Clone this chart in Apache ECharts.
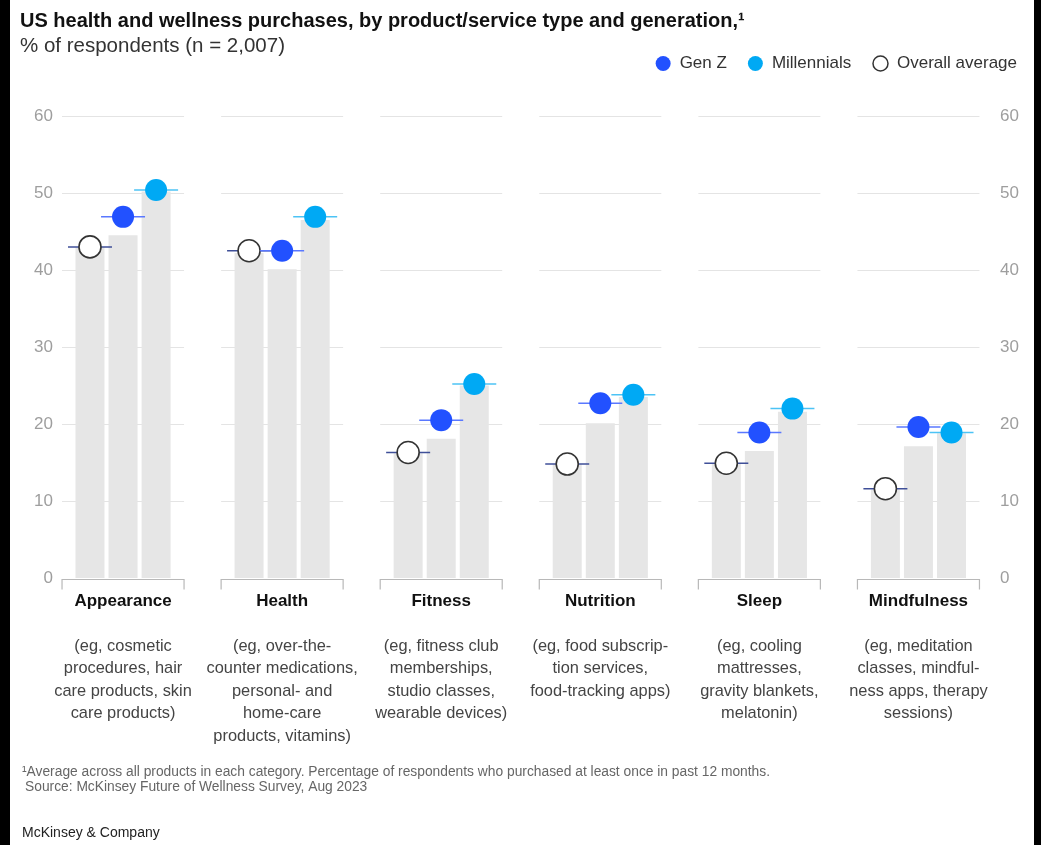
<!DOCTYPE html>
<html>
<head>
<meta charset="utf-8">
<script src="https://cdn.jsdelivr.net/npm/echarts@6/dist/echarts.min.js"></script>
<style>
  html, body { margin: 0; padding: 0; background: #000; width: 1041px; height: 845px; overflow: hidden; }
  #chart { position: absolute; left: 10px; top: 0; width: 1024px; height: 845px; background: #fff; }
</style>
</head>
<body>
<div id="chart"></div>
<script>
// ---- Data ----
const categories = ['Appearance', 'Health', 'Fitness', 'Nutrition', 'Sleep', 'Mindfulness'];
const descriptions = [
  ['(eg, cosmetic', 'procedures, hair', 'care products, skin', 'care products)'],
  ['(eg, over-the-', 'counter medications,', 'personal- and', 'home-care', 'products, vitamins)'],
  ['(eg, fitness club', 'memberships,', 'studio classes,', 'wearable devices)'],
  ['(eg, food subscrip-', 'tion services,', 'food-tracking apps)'],
  ['(eg, cooling', 'mattresses,', 'gravity blankets,', 'melatonin)'],
  ['(eg, meditation', 'classes, mindful-', 'ness apps, therapy', 'sessions)']
];
const overallAvg  = [43.0, 42.5, 16.3, 14.8, 14.9, 11.6];
const genZ        = [46.9, 42.5, 20.5, 22.7, 18.9, 19.6];
const millennials = [50.4, 46.9, 25.2, 23.8, 22.0, 18.9];
const barOverall     = [43.0, 42.2, 16.2, 14.8, 14.8, 11.5];
const barGenZ        = [44.5, 40.1, 18.1, 20.1, 16.5, 17.1];
const barMillennials = [50.2, 46.5, 25.0, 23.5, 21.6, 18.8];
const yTicks = [0, 10, 20, 30, 40, 50, 60];

// ---- Style constants ----
const BAR_W = 29;
const BAR_GAP = 0.14;
const BRACKET_RATIO = 0.767;
const FONT = '"Liberation Sans", Arial, Helvetica, sans-serif';

const chart = echarts.init(document.getElementById('chart'), null, { renderer: 'canvas' });

function gridRender(params, api) {
  const idx = api.value(0);
  const base = api.coord([idx, 0]);
  const band = api.size([1, 0])[0];
  const half = band * BRACKET_RATIO / 2;
  const children = [];
  yTicks.forEach(t => {
    if (t === 0) return;
    const y = Math.round(api.coord([idx, t])[1]) + 0.5;
    children.push({
      type: 'line',
      shape: { x1: base[0] - half, y1: y, x2: base[0] + half, y2: y },
      style: { stroke: '#e4e4e4', lineWidth: 1 }
    });
  });
  const y0 = Math.round(base[1]) + 1.5;
  children.push({
    type: 'polyline',
    shape: { points: [[base[0] - half, y0 + 10], [base[0] - half, y0], [base[0] + half, y0], [base[0] + half, y0 + 10]] },
    style: { stroke: '#b8b8b8', lineWidth: 1.2, fill: null }
  });
  return { type: 'group', children };
}

function markerRender(k, fill, stroke, lineColor) {
  return function (params, api) {
    const idx = api.value(0), v = api.value(1);
    const p = api.coord([idx, v]);
    const step = BAR_W * (1 + BAR_GAP);
    const cx = p[0] + (k - 1) * step;
    return {
      type: 'group',
      children: [
        { type: 'line', shape: { x1: cx - 22, y1: p[1], x2: cx + 22, y2: p[1] }, style: { stroke: lineColor, lineWidth: 1.5 } },
        { type: 'circle', shape: { cx: cx, cy: p[1], r: 11 }, style: { fill: fill, stroke: stroke || null, lineWidth: stroke ? 1.6 : 0 } }
      ]
    };
  };
}

const pairs = arr => arr.map((v, i) => [i, v]);

const barStyle = { color: '#e6e6e6' };

const option = {
  backgroundColor: '#fff',
  animation: false,
  textStyle: { fontFamily: FONT },
  title: {
    text: 'US health and wellness purchases, by product/service type and generation,¹',
    subtext: '% of respondents (n = 2,007)',
    left: 10, top: 10, itemGap: 3, padding: 0,
    textStyle: { fontFamily: FONT, fontSize: 20, fontWeight: 'bold', color: '#111', lineHeight: 22 },
    subtextStyle: { fontFamily: FONT, fontSize: 20.5, color: '#333', lineHeight: 22 }
  },
  legend: {
    top: 50, right: 12,
    itemWidth: 15, itemHeight: 15, itemGap: 21,
    textStyle: { fontFamily: FONT, fontSize: 17, color: '#333', padding: [0, 0, 0, 4] },
    data: [
      { name: 'Gen Z', icon: 'circle', itemStyle: { color: '#2251ff' } },
      { name: 'Millennials', icon: 'circle', itemStyle: { color: '#00a9f4' } },
      { name: 'Overall average', icon: 'circle', itemStyle: { color: '#fff', borderColor: '#333', borderWidth: 1.5 } }
    ],
    selectedMode: false
  },
  grid: { left: 33.5, right: 36, top: 116, bottom: 267 },
  xAxis: {
    type: 'category',
    data: categories,
    axisLine: { show: false },
    axisTick: { show: false },
    splitLine: { show: false },
    axisLabel: {
      interval: 0, margin: 12,
      formatter: function (value, index) {
        const lines = ['{n|' + value + '}', '{d| }'];
        descriptions[index].forEach(l => lines.push('{d|' + l + '}'));
        return lines.join('\n');
      },
      rich: {
        n: { fontFamily: FONT, fontSize: 17, fontWeight: 'bold', color: '#111', lineHeight: 22.5, align: 'center' },
        d: { fontFamily: FONT, fontSize: 16.4, color: '#444', lineHeight: 22.5, align: 'center' }
      }
    }
  },
  yAxis: [
    {
      type: 'value', min: 0, max: 60, interval: 10, position: 'left',
      axisLine: { show: false }, axisTick: { show: false }, splitLine: { show: false },
      axisLabel: { margin: -9.5, color: '#9e9e9e', fontSize: 17, fontFamily: FONT }
    },
    {
      type: 'value', min: 0, max: 60, interval: 10, position: 'right',
      axisLine: { show: false }, axisTick: { show: false }, splitLine: { show: false },
      axisLabel: { margin: 2, color: '#9e9e9e', fontSize: 17, fontFamily: FONT }
    }
  ],
  series: [
    { type: 'custom', name: 'grid', silent: true, z: 1, clip: false, renderItem: gridRender, data: categories.map((c, i) => [i, 0]) },
    { type: 'bar', name: 'bOverall', silent: true, z: 2, barWidth: BAR_W, barGap: (BAR_GAP * 100) + '%', itemStyle: barStyle, data: barOverall },
    { type: 'bar', name: 'bGenZ', silent: true, z: 2, barWidth: BAR_W, barGap: (BAR_GAP * 100) + '%', itemStyle: barStyle, data: barGenZ },
    { type: 'bar', name: 'bMill', silent: true, z: 2, barWidth: BAR_W, barGap: (BAR_GAP * 100) + '%', itemStyle: barStyle, data: barMillennials },
    { type: 'custom', name: 'Overall average', z: 3, clip: false, itemStyle: { color: '#fff', borderColor: '#333' },
      renderItem: markerRender(0, '#ffffff', '#333333', '#3f4f98'), data: pairs(overallAvg) },
    { type: 'custom', name: 'Gen Z', z: 4, clip: false, itemStyle: { color: '#2251ff' },
      renderItem: markerRender(1, '#2251ff', null, '#5a78ff'), data: pairs(genZ) },
    { type: 'custom', name: 'Millennials', z: 5, clip: false, itemStyle: { color: '#00a9f4' },
      renderItem: markerRender(2, '#00a9f4', null, '#4cc3f5'), data: pairs(millennials) }
  ],
  graphic: [
    { type: 'text', left: 12, top: 765, style: { text: '¹Average across all products in each category. Percentage of respondents who purchased at least once in past 12 months.', font: '13.8px ' + FONT, fill: '#666' } },
    { type: 'text', left: 15, top: 780, style: { text: 'Source: McKinsey Future of Wellness Survey, Aug 2023', font: '13.8px ' + FONT, fill: '#666' } },
    { type: 'text', left: 12, top: 826, style: { text: 'McKinsey & Company', font: '14px ' + FONT, fill: '#222' } }
  ]
};

chart.setOption(option);
</script>
</body>
</html>
